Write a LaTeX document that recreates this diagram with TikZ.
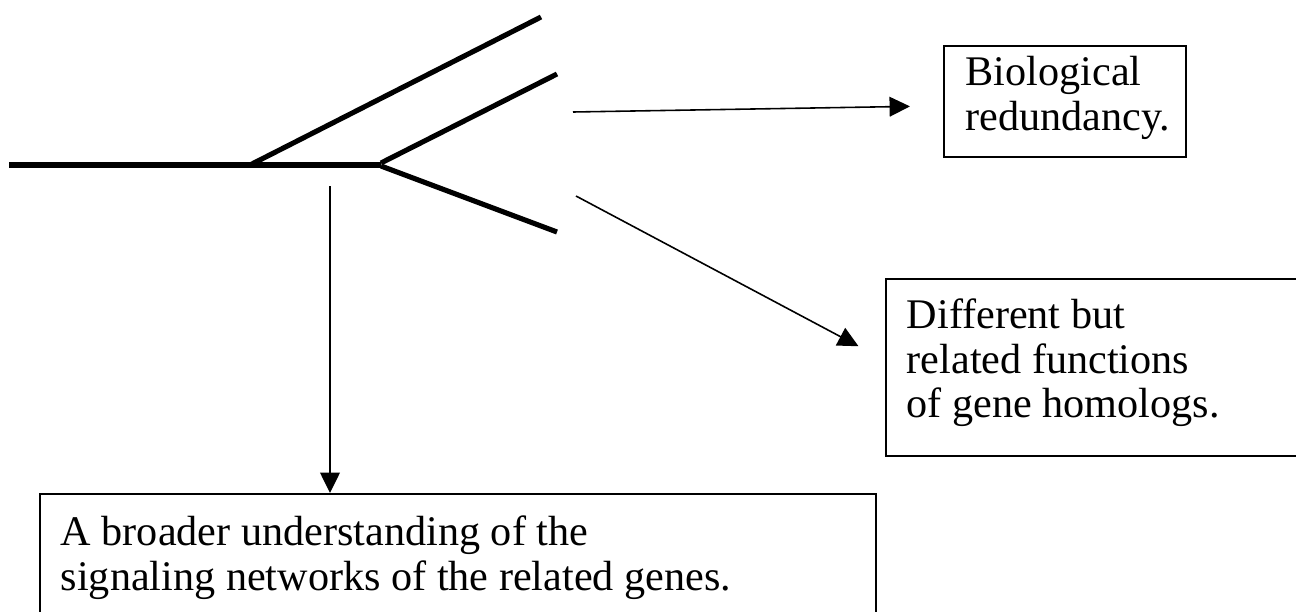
\documentclass[tikz,border=0pt]{standalone}
\usepackage{fontspec}
\setmainfont{Liberation Serif}
\usetikzlibrary{arrows.meta}

\tikzset{
  branch/.style={line width=1.45pt},
  pointer/.style={line width=0.45pt, -{Triangle[length=5.8pt,width=5.6pt]}},
  textbox/.style={draw, line width=0.45pt, anchor=north west, align=flush left,
    inner ysep=0pt, font=\fontsize{12pt}{12.66pt}\selectfont}
}

\begin{document}
\begin{tikzpicture}[x=0.01cm,y=-0.01cm]

	\clip (0,0) rectangle (1296,612);

	% gene tree
	\draw[branch] (9,165) -- (381,165);
	\draw[branch] (250,165) -- (541,17);
	\draw[branch] (381,163) -- (557,74);
	\draw[branch] (381,166) -- (557,232);

	\coordinate (redtail) at (573,112);
	\coordinate (funtail) at (576,196);
	\coordinate (nettail) at (330,186);

	% outcomes
	\node[textbox, inner xsep=0.22cm, text width=1.98cm, text height=0.40cm, text depth=0.71cm] (bio) at (943,45) {Biological\\redundancy.};
	\node[textbox, inner xsep=0.21cm, text width=3.75cm, text height=0.50cm, text depth=1.27cm] (diff) at (885,278) {Different but\\related functions\\of gene homologs.};
	\node[textbox, inner xsep=0.21cm, text width=7.94cm, text height=0.52cm, text depth=1.3cm] (broad) at (39,493) {A broader understanding of the\\signaling networks of the related genes.};

	\draw[pointer, shorten >=0.33cm] (redtail) -- ([yshift=-0.045cm]bio.west);
	\draw[pointer, shorten >=0.3cm] (funtail) -- ([yshift=0.07cm]diff.west);
	\draw[pointer] (nettail) -- (nettail |- broad.north);

\end{tikzpicture}
\end{document}
